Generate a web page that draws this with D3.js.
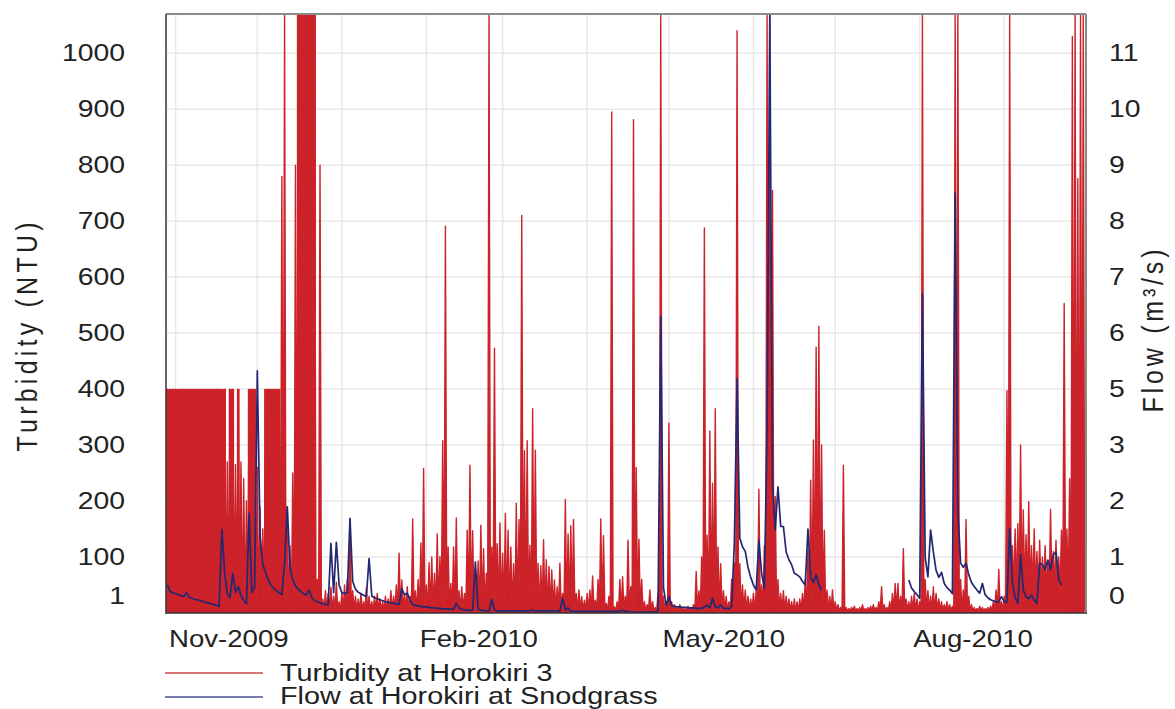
<!DOCTYPE html>
<html><head><meta charset="utf-8">
<script src="https://cdn.jsdelivr.net/npm/d3@7"></script>
<style>
body{margin:0;background:#fff;}
svg{display:block;font-family:"Liberation Sans",Arial,sans-serif;}
</style>
</head><body>
<svg id="chart" width="1175" height="709"></svg>
<script>
// ---------------- DATA ----------------
// Daily maximum turbidity (NTU), day 0 = 29 Oct 2009
const turbidityStart = "2009-10-29";
const turbidityHigh = [
  400,400,400,400,400,400,400,400,400,400,      // d0-9
  400,400,400,400,400,400,400,400,400,400,      // d10-19
  400,400,270,400,400,265,400,270,240,200,      // d20-29
  400,400,400,260,190,150,400,400,400,400,      // d30-39
  400,400,780,1070,190,120,250,800,1070,1070,   // d40-49
  1070,1070,1070,1070,1070,60,800,25,40,35,     // d50-59
  46,30,55,20,35,50,60,166,40,30,               // d60-69
  25,35,20,45,30,20,30,35,25,20,                // d70-79
  30,25,40,30,50,107,59,35,47,30,               // d80-89
  168,40,60,125,258,50,90,100,71,141,           // d90-99
  101,308,691,118,53,118,170,40,47,35,          // d100-109
  148,264,147,77,93,157,115,71,1070,118,        // d110-119
  473,124,161,107,178,148,118,88,196,167,       // d120-129
  710,290,308,121,365,291,89,85,131,95,         // d130-139
  83,77,59,47,89,35,203,141,156,167,            // d140-149
  35,41,29,23,35,41,66,23,60,168,               // d150-159
  138,17,30,895,11,20,60,65,30,130,             // d160-169
  47,881,260,132,60,20,15,41,20,10,             // d170-179
  35,1070,30,15,339,20,15,10,15,10,             // d180-189
  8,12,10,15,74,40,100,688,139,325,             // d190-199
  232,365,118,88,40,30,20,60,90,1040,           // d200-209
  88,50,41,30,25,35,40,221,50,120,              // d210-219
  1070,1070,755,208,60,35,40,30,25,20,          // d220-229
  25,20,25,35,60,112,237,309,475,512,           // d230-239
  300,148,41,30,41,20,15,10,264,10,             // d240-249
  8,10,12,8,10,15,8,10,12,15,                   // d250-259
  10,20,47,15,10,20,35,53,53,30,                // d260-269
  115,25,20,30,35,25,20,1070,60,40,             // d270-279
  30,47,35,25,20,15,20,15,12,1070,              // d280-289
  1070,60,41,167,30,15,10,8,12,10,              // d290-299
  8,10,12,20,41,78,20,30,397,1070,              // d300-309
  120,150,160,300,184,140,199,120,150,110,      // d310-319
  130,100,120,90,185,110,130,100,148,553,       // d320-329
  150,240,1030,1070,776,1070,1070               // d330-336
];
// Floor the signal falls back to between peaks: [firstDay, lastDay, NTU]
const turbidityLowRuns = [[0, 309, 4], [310, 331, 40], [332, 336, 4]];
// Spans where the logger trace is solid (continuous oscillation): [firstDay, lastDay, NTU]
const turbiditySolidSpans = [[0, 21, 400], [23, 24, 400], [26, 26, 400], [30, 32, 400], [36, 41, 400], [48, 54, 1070]];

// Daily flow (m3/s); two recorded stretches
const flowStartA = 0;      // day index of first value
const flowA = [
  .55,.42,.40,.38,.36,.34,.32,.40,.31,.29,
  .27,.26,.24,.23,.21,.20,.18,.17,.15,.13,
  1.64,.80,.38,.30,.78,.40,.52,.35,.25,.18,
  1.96,.40,.50,4.76,1.50,.95,.80,.65,.55,.48,
  .44,.40,.36,.98,2.08,.90,.65,.53,.47,.42,
  .38,.35,.45,.30,.24,.22,.20,.19,.17,.16,
  1.37,.40,1.39,.55,.40,.38,.40,1.86,.62,.47,
  .41,.38,.35,.32,1.07,.33,.30,.28,.26,.24,
  .22,.21,.20,.19,.18,.17,.48,.36,.39,.25,
  .17,.15,.14,.13,.12,.12,.11,.10,.10,.09,
  .09,.08,.08,.08,.07,.07,.19,.10,.07,.06,
  .06,.05,.05,1.00,.08,.05,.05,.04,.04,.27,
  .06,.04,.04,.04,.04,.04,.04,.04,.04,.04,
  .04,.04,.04,.04,.06,.04,.04,.04,.04,.04,
  .04,.04,.04,.04,.04,.29,.06,.10,.03,.03,
  .03,.03,.03,.03,.03,.03,.03,.03,.03,.03,
  .03,.03,.03,.03,.03,.03,.03,.06,.03,.03,
  .02,.02,.02,.02,.02,.02,.02,.02,.02,.02,
  .05,5.83,.50,.15,.32,.15,.13,.12,.12,.11,
  .11,.10,.10,.10,.09,.09,.09,.12,.15,.10,
  .29,.12,.10,.16,.09,.09,.08,.12,1.37,4.60,
  1.47,1.30,1.21,.90,.70,.55,.45,1.43,.78,.48,
  3.60,11.77,2.50,1.63,2.48,1.70,1.70,1.20,1.05,.95,
  .78,.75,.71,.62,.55,1.65,.70,.60,.75,.55,
  .45
];
const flowStartB = 272;
const flowB = [
  .65,.49,.42,.36,.29,6.27,1.10,.71,1.63,1.20,
  .84,.70,.80,.58,.50,.45,.38,8.25,2.00,.98,
  .90,.98,.75,.60,.52,.45,.39,.58,.36,.30,
  .26,.24,.22,.22,.32,.22,.22,1.66,.60,.30,
  .19,1.14,.45,.32,.28,.35,.25,.19,.98,.95,
  .85,1.04,.85,1.14,1.20,.65,.55
];

const leftTickValues  = [30, 100, 200, 300, 400, 500, 600, 700, 800, 900, 1000];
const leftTickLabels  = ["1","100","200","300","400","500","600","700","800","900","1000"];
const rightTickLabels = ["0","1","2","3","5","6","7","8","9","10","11"];
const xTickDates = ["2009-11-01","2010-02-01","2010-05-01","2010-08-01"];
const seriesNames = ["Turbidity at Horokiri 3", "Flow at Horokiri at Snodgrass"];
const axisTitles = ["Turbidity (NTU)", "Flow (m\u00B3/s)"];

// ---------------- CHART ----------------
const L = 166, R = 1086, T = 14, B = 613;
const RED = "#cc2229", BLUE = "#232873";
const svg = d3.select("#chart");
const parse = d3.utcParse("%Y-%m-%d");
const day0 = parse(turbidityStart).getTime();
const dayDate = d => new Date(day0 + d * 864e5);

const x = d3.scaleUtc()
  .domain([new Date(Date.UTC(2009, 9, 28, 12)), new Date(Date.UTC(2010, 9, 1))])
  .range([L, R]);
const yT = d3.scaleLinear().domain([0, 1070]).range([B, T]);
const yF = d3.scaleLinear().domain([0, 11.77]).range([B, T]);
const capT = v => yT(Math.min(v, 1080));

svg.append("defs").append("clipPath").attr("id", "plotclip")
  .append("rect").attr("x", L).attr("y", T - 1).attr("width", R - L).attr("height", B - T + 1);

// grid
const grid = svg.append("g").attr("stroke", "#e8e8e8").attr("stroke-width", 1.5);
grid.selectAll("line.h").data(leftTickValues.slice(1)).join("line")
  .attr("x1", L).attr("x2", R).attr("y1", d => yT(d)).attr("y2", d => yT(d));
grid.selectAll("line.v").data(d3.utcMonth.range(new Date(Date.UTC(2009,10,1)), new Date(Date.UTC(2010,9,1)))).join("line")
  .attr("y1", T).attr("y2", B).attr("x1", d => x(d)).attr("x2", d => x(d));

const plot = svg.append("g").attr("clip-path", "url(#plotclip)");

// turbidity: solid spans
plot.selectAll("rect.solid").data(turbiditySolidSpans).join("rect")
  .attr("x", d => x(dayDate(d[0] - 0.5)))
  .attr("width", d => x(dayDate(d[1] + 0.5)) - x(dayDate(d[0] - 0.5)))
  .attr("y", d => capT(d[2])).attr("height", d => yT(0) - capT(d[2]))
  .attr("fill", RED);

// turbidity: zig-zag between floor and daily peak
const lowFor = d => { for (const [a, b, v] of turbidityLowRuns) if (d >= a && d <= b) return v; return 4; };
const tPts = [];
turbidityHigh.forEach((v, d) => { tPts.push([d - 0.5, lowFor(d)]); tPts.push([d, v]); });
tPts.push([turbidityHigh.length - 0.5, lowFor(turbidityHigh.length - 1)]);
plot.append("path")
  .attr("d", d3.area().x(p => x(dayDate(p[0]))).y0(yT(0)).y1(p => capT(p[1]))(tPts))
  .attr("fill", RED);
plot.append("path")
  .attr("d", d3.line().x(p => x(dayDate(p[0]))).y(p => capT(p[1]))(tPts))
  .attr("fill", "none").attr("stroke", RED).attr("stroke-width", 1.4).attr("stroke-linejoin", "round");

// flow
const flowLine = d3.line().x(p => x(dayDate(p[0]))).y(p => yF(p[1]));
[[flowStartA, flowA], [flowStartB, flowB]].forEach(([s, arr]) => {
  plot.append("path")
    .attr("d", flowLine(arr.map((v, i) => [s + i, v])))
    .attr("fill", "none").attr("stroke", BLUE).attr("stroke-width", 1.7).attr("stroke-linejoin", "round");
});

// frame
svg.append("line").attr("x1", L).attr("x2", R).attr("y1", T).attr("y2", T).attr("stroke", "#8a8a8a").attr("stroke-width", 2);
svg.append("line").attr("x1", R).attr("x2", R).attr("y1", T).attr("y2", B).attr("stroke", "#8a8a8a").attr("stroke-width", 2);
svg.append("line").attr("x1", L).attr("x2", L).attr("y1", T).attr("y2", B + 1).attr("stroke", "#333").attr("stroke-width", 1.5);
svg.append("line").attr("x1", L).attr("x2", R + 1).attr("y1", B).attr("y2", B).attr("stroke", "#333").attr("stroke-width", 1.5);

function stretch(sel, k) {
  sel.each(function () {
    const t = d3.select(this);
    const xx = +t.attr("x") || 0;
    t.attr("x", 0).attr("transform", `translate(${xx},0) scale(${k},1)`);
  });
}

// axes
const gL = svg.append("g").attr("transform", `translate(${L},0)`)
  .call(d3.axisLeft(yT).tickValues(leftTickValues).tickFormat((d, i) => leftTickLabels[i]).tickSize(0).tickPadding(41));
const gR = svg.append("g").attr("transform", `translate(${R},0)`)
  .call(d3.axisRight(yT).tickValues(leftTickValues).tickFormat((d, i) => rightTickLabels[i]).tickSize(0).tickPadding(23));
const gX = svg.append("g").attr("transform", `translate(0,${B})`)
  .call(d3.axisBottom(x).tickValues(xTickDates.map(parse)).tickFormat(d3.utcFormat("%b-%Y")).tickSize(0));
[gL, gR, gX].forEach(g => {
  g.select(".domain").remove();
  g.attr("font-family", null).attr("font-size", null);
  g.selectAll("text").attr("fill", "#222").attr("font-size", 24);
});
stretch(gL.selectAll("text"), 1.18);
stretch(gR.selectAll("text"), 1.18);
gX.selectAll("text").attr("font-size", 23).attr("text-anchor", "start").attr("y", 34).attr("dy", 0).attr("x", -7);
stretch(gX.selectAll("text"), 1.2);

// axis titles
svg.append("text").attr("transform", "translate(37,337) rotate(-90) scale(1,1.18)")
  .attr("text-anchor", "middle").attr("font-size", 25).attr("fill", "#222")
  .attr("textLength", 229).attr("lengthAdjust", "spacing").text(axisTitles[0]);
svg.append("text").attr("transform", "translate(1163,331) rotate(-90) scale(1,1.18)")
  .attr("text-anchor", "middle").attr("font-size", 25).attr("fill", "#222")
  .attr("textLength", 163).attr("lengthAdjust", "spacing").text(axisTitles[1]);

// legend
const legColors = ["#d2444b", "#4b4f97"];
const leg = svg.append("g");
seriesNames.forEach((name, i) => {
  const ly = 673 + i * 24;
  leg.append("line").attr("x1", 165).attr("x2", 263).attr("y1", ly).attr("y2", ly)
    .attr("stroke", legColors[i]).attr("stroke-width", 1.3);
  leg.append("text").attr("transform", `translate(280,${681 + i * 22.5}) scale(1.2,1)`)
    .attr("font-size", 24).attr("fill", "#222").text(name);
});
</script>
</body></html>
